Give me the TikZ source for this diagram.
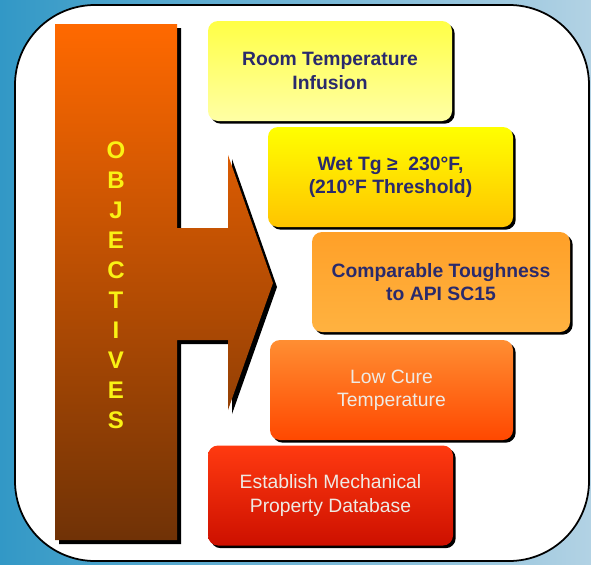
\documentclass[tikz,border=0pt]{standalone}
\usepackage{fontspec}
\setmainfont{Liberation Sans}
\usetikzlibrary{shadows}

\definecolor{navytxt}{RGB}{42,42,108}
\definecolor{lighttxt}{RGB}{238,234,228}
\definecolor{letteryel}{RGB}{250,242,20}

\begin{document}
\begin{tikzpicture}[x=0.3mm, y=-0.3mm,
  goal/.style={rounded corners=3mm, minimum height=30mm, align=center, inner sep=2pt,
    font=\fontsize{16.5}{20}\selectfont,
    drop shadow={shadow xshift=0.8mm, shadow yshift=-0.8mm, fill=black, opacity=1}},
  dark/.style={goal, text=navytxt, font=\fontsize{16.5}{20}\selectfont\bfseries},
  light/.style={goal, text=lighttxt},
  letter/.style={text=letteryel, font=\fontsize{20.5}{22}\selectfont\bfseries, inner sep=0pt}
]
% Background and panel
\shade[left color={rgb,255:red,50;green,152;blue,198}, right color={rgb,255:red,178;green,210;blue,228}]
  (0,0) rectangle (591,564);
\draw[fill=white, line width=1.5pt, rounded corners=24mm] (15,5) rectangle (589,561);

% Big arrow (shadow first)
\fill[black, shift={(4,4)}]
  (55,24) -- (177,24) -- (177,228) -- (228,228) -- (228,155) -- (273,283)
  -- (228,410) -- (228,340) -- (177,340) -- (177,540) -- (55,540) -- cycle;
\shade[top color={rgb,255:red,255;green,105;blue,0}, bottom color={rgb,255:red,112;green,50;blue,6}]
  (55,24) -- (177,24) -- (177,228) -- (228,228) -- (228,155) -- (273,283)
  -- (228,410) -- (228,340) -- (177,340) -- (177,540) -- (55,540) -- cycle;

% Vertical title
\foreach \ch [count=\i from 0] in {O,B,J,E,C,T,I,V,E,S}
  \node[letter] (ltr\i) at (116,150+30*\i) {\ch};

% Objective boxes
\node[dark, minimum width=73.2mm, top color={rgb,255:red,255;green,255;blue,70}, bottom color={rgb,255:red,255;green,255;blue,165}]
  (infusion) at (330,71) {Room Temperature\\Infusion};
\node[dark, minimum width=73.5mm, top color={rgb,255:red,255;green,255;blue,0}, bottom color={rgb,255:red,255;green,196;blue,0}]
  (wettg) at (390.5,177) {Wet Tg ≥~ 230°F,\\(210°F Threshold)};
\node[dark, minimum width=77.4mm, top color={rgb,255:red,255;green,160;blue,40}, bottom color={rgb,255:red,255;green,178;blue,64}]
  (tough) at (441,282) {Comparable Toughness\\to API SC15};
\node[light, minimum width=72.9mm, top color={rgb,255:red,255;green,142;blue,50}, bottom color={rgb,255:red,255;green,72;blue,0}]
  (lowcure) at (391.5,390) {Low Cure\\Temperature};
\node[light, minimum width=73.5mm, top color={rgb,255:red,255;green,58;blue,16}, bottom color={rgb,255:red,205;green,16;blue,0}]
  (database) at (330.5,495.5) {Establish Mechanical\\Property Database};
\end{tikzpicture}
\end{document}
